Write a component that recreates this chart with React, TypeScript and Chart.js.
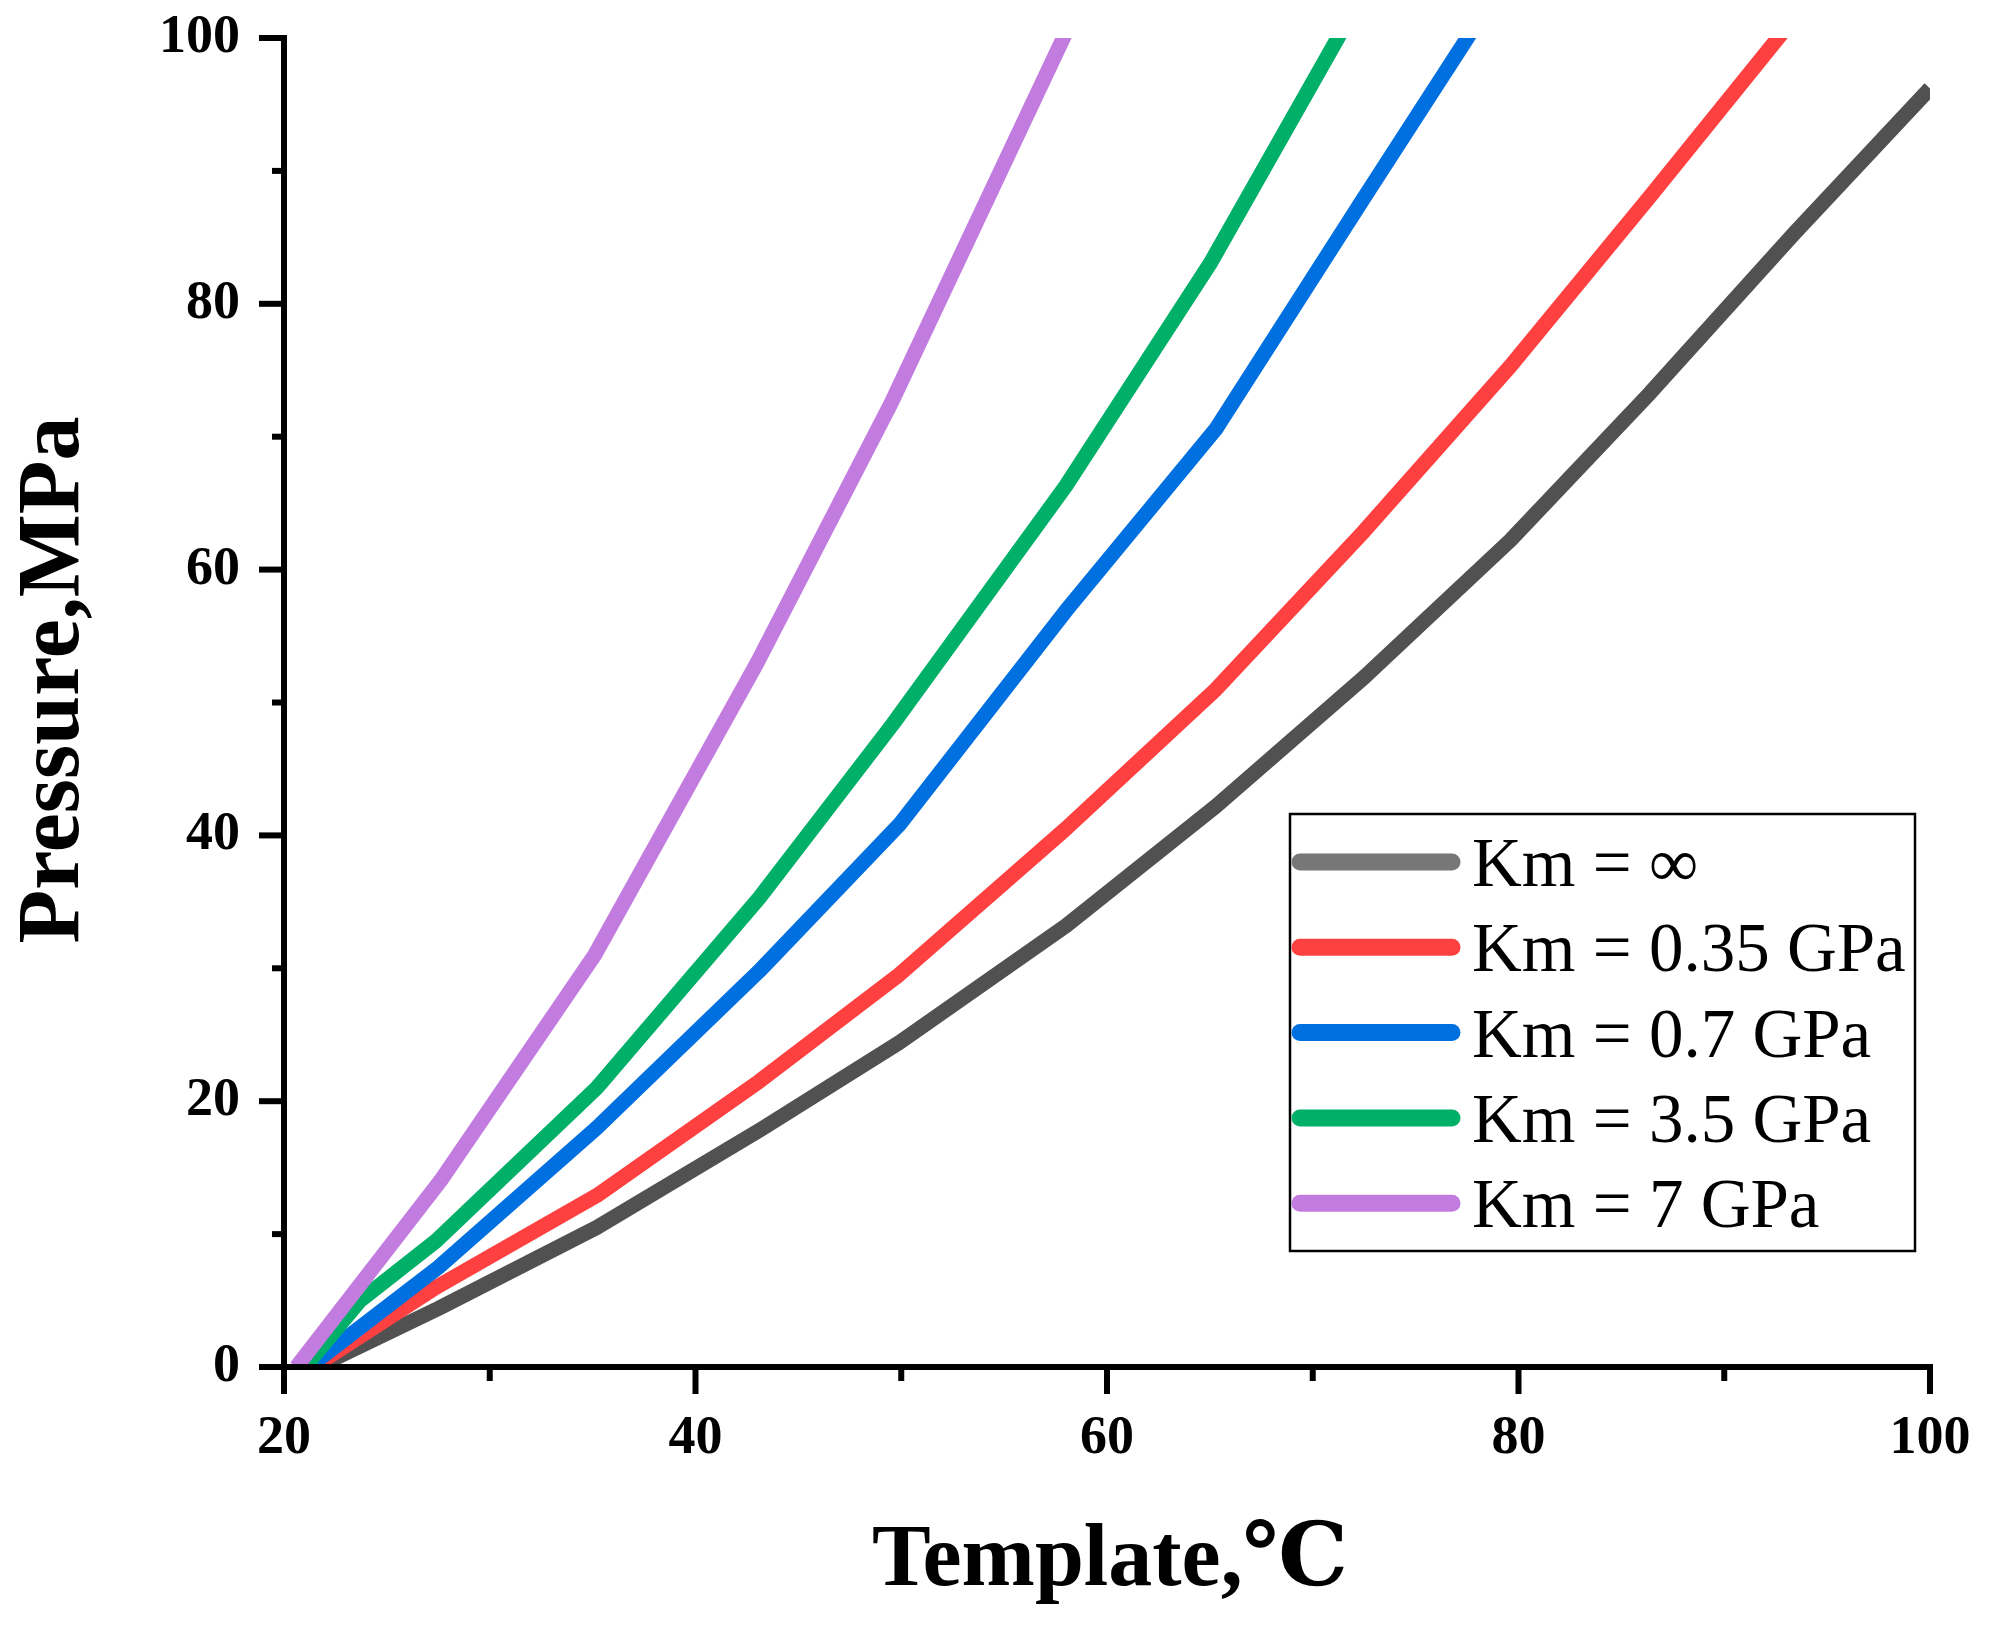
import React, { useEffect, useRef } from 'react';
import { Chart, registerables } from 'chart.js';

Chart.register(...registerables);

// ---------- data ----------
const seriesLabels = ['Km = ∞', 'Km = 0.35 GPa', 'Km = 0.7 GPa', 'Km = 3.5 GPa', 'Km = 7 GPa'];

const kmInfT = [21.6, 27.5, 35.2, 43.2, 49.9, 58.0, 65.3, 72.5, 79.6, 86.4, 93.4, 100];
const kmInfP = [0, 4.4, 10.5, 17.9, 24.4, 33.2, 42.2, 51.9, 62.2, 73.3, 85.3, 96.2];

const km035T = [21.4, 27.4, 35.2, 43.1, 49.8, 58.0, 65.3, 72.5, 79.6, 86.4, 93.4];
const km035P = [0, 6.0, 12.9, 21.5, 29.4, 40.5, 51.0, 62.9, 75.3, 88.1, 101.5];

const km07T = [21.2, 27.5, 35.2, 43.1, 49.9, 58.0, 65.3, 72.5, 79.6];
const km07P = [0, 7.5, 18.0, 29.8, 40.8, 56.9, 70.6, 88.0, 105];

const km35T = [21.0, 23.7, 27.4, 35.2, 43.1, 49.6, 58.0, 65.0, 72.5];
const km35P = [0, 5.0, 9.5, 21.0, 35.3, 48.4, 66.3, 83.0, 103.5];

const km7T = [20.6, 27.6, 35.1, 43.0, 49.5, 58.0];
const km7P = [0, 14.0, 31.0, 53.0, 72.5, 100.4];

const xMajorTicks = [20, 40, 60, 80, 100];
const xMinorTicks = [30, 50, 70, 90];
const yMajorTicks = [0, 20, 40, 60, 80, 100];
const yMinorTicks = [10, 30, 50, 70, 90];

const xAxisTitle = 'Template,℃';
const yAxisTitle = 'Pressure,MPa';

// ---------- styles ----------
const lineColors = ['#515151', '#FF4040', '#0070E0', '#00AF68', '#C27CE0'];
const legendColors = ['#777777', '#FF4040', '#0070E0', '#00AF68', '#C27CE0'];
const serif = "'Liberation Serif', 'Times New Roman', 'DejaVu Serif', serif";

function pts(xs: number[], ys: number[]) {
  return xs.map((x, i) => ({ x, y: ys[i] }));
}

function noScalePadding(s: any) {
  s.paddingTop = 0;
  s.paddingBottom = 0;
  s.paddingLeft = 0;
  s.paddingRight = 0;
}

const decorPlugin = {
  id: 'decor',
  afterDraw(chart: any) {
    const ctx = chart.ctx as CanvasRenderingContext2D;
    const xs = chart.scales.x;
    const ys = chart.scales.y;
    const area = chart.chartArea;
    ctx.save();
    // tick marks
    ctx.strokeStyle = '#000';
    ctx.lineWidth = 6;
    ctx.lineCap = 'butt';
    const yTick = (v: number, len: number) => {
      const py = ys.getPixelForValue(v);
      ctx.beginPath();
      ctx.moveTo(area.left + 3, py);
      ctx.lineTo(area.left - len, py);
      ctx.stroke();
    };
    const xTick = (v: number, len: number) => {
      const px = xs.getPixelForValue(v);
      ctx.beginPath();
      ctx.moveTo(px, area.bottom - 3);
      ctx.lineTo(px, area.bottom + len);
      ctx.stroke();
    };
    yMajorTicks.forEach((v) => yTick(v, 25));
    yMinorTicks.forEach((v) => yTick(v, 12));
    xMajorTicks.forEach((v) => xTick(v, 27));
    xMinorTicks.forEach((v) => xTick(v, 14));

    // axis titles
    ctx.fillStyle = '#000';
    ctx.font = `bold 88px ${serif}`;
    ctx.textAlign = 'center';
    ctx.textBaseline = 'alphabetic';
    ctx.fillText(xAxisTitle, 1110, 1585);
    ctx.save();
    ctx.translate(78, 680);
    ctx.rotate(-Math.PI / 2);
    ctx.fillText(yAxisTitle, 0, 0);
    ctx.restore();

    // legend
    const bx = 1290, by = 814, bw = 625, bh = 437;
    ctx.fillStyle = '#fff';
    ctx.fillRect(bx, by, bw, bh);
    ctx.strokeStyle = '#000';
    ctx.lineWidth = 2.5;
    ctx.strokeRect(bx, by, bw, bh);
    const rowY0 = 862, rowStep = 85.3;
    ctx.font = `69px ${serif}`;
    ctx.textAlign = 'left';
    chart.data.datasets.forEach((ds: any, i: number) => {
      const ry = rowY0 + i * rowStep;
      ctx.strokeStyle = ds.legendColor;
      ctx.lineWidth = 17;
      ctx.lineCap = 'round';
      ctx.beginPath();
      ctx.moveTo(1300, ry);
      ctx.lineTo(1452, ry);
      ctx.stroke();
      ctx.fillStyle = '#000';
      ctx.fillText(ds.label, 1472, ry + 24);
    });
    ctx.restore();
  },
};

export default function App() {
  const canvasRef = useRef<HTMLCanvasElement | null>(null);

  useEffect(() => {
    if (!canvasRef.current) return;
    const series = [
      pts(kmInfT, kmInfP),
      pts(km035T, km035P),
      pts(km07T, km07P),
      pts(km35T, km35P),
      pts(km7T, km7P),
    ];
    const chart = new Chart(canvasRef.current, {
      type: 'line',
      data: {
        datasets: series.map((d, i) => ({
          label: seriesLabels[i],
          data: d,
          borderColor: lineColors[i],
          legendColor: legendColors[i],
          backgroundColor: lineColors[i],
          borderWidth: 15,
          pointRadius: 0,
          tension: 0,
          fill: false,
          borderJoinStyle: 'round',
          borderCapStyle: 'butt',
          clip: 0,
          order: series.length - i,
        })) as any,
      },
      options: {
        animation: false,
        responsive: false,
        devicePixelRatio: 1,
        events: [],
        layout: { padding: { left: 0, top: 38, right: 59, bottom: 0 } },
        plugins: {
          legend: { display: false },
          tooltip: { enabled: false },
          title: { display: false },
        },
        scales: {
          x: {
            type: 'linear',
            min: 20,
            max: 100,
            afterFit: (s: any) => { s.height = 258; noScalePadding(s); },
            grid: { display: false, drawTicks: false, tickLength: 0 },
            border: { display: true, color: '#000', width: 6, z: 1 },
            ticks: {
              stepSize: 20,
              padding: 40,
              color: '#000',
              maxRotation: 0,
              font: { family: serif, size: 54, weight: 'bold' },
            },
          },
          y: {
            type: 'linear',
            min: 0,
            max: 100,
            afterFit: (s: any) => { s.width = 284; noScalePadding(s); },
            grid: { display: false, drawTicks: false, tickLength: 0 },
            border: { display: true, color: '#000', width: 6, z: 1 },
            ticks: {
              stepSize: 20,
              padding: 44,
              color: '#000',
              font: { family: serif, size: 54, weight: 'bold' },
            },
          },
        },
      } as any,
      plugins: [decorPlugin],
    });
    return () => chart.destroy();
  }, []);

  return (
    <div style={{ position: 'absolute', left: 0, top: 0, width: 1989, height: 1625, background: '#fff' }}>
      <canvas ref={canvasRef} width={1989} height={1625} style={{ display: 'block' }} />
    </div>
  );
}
